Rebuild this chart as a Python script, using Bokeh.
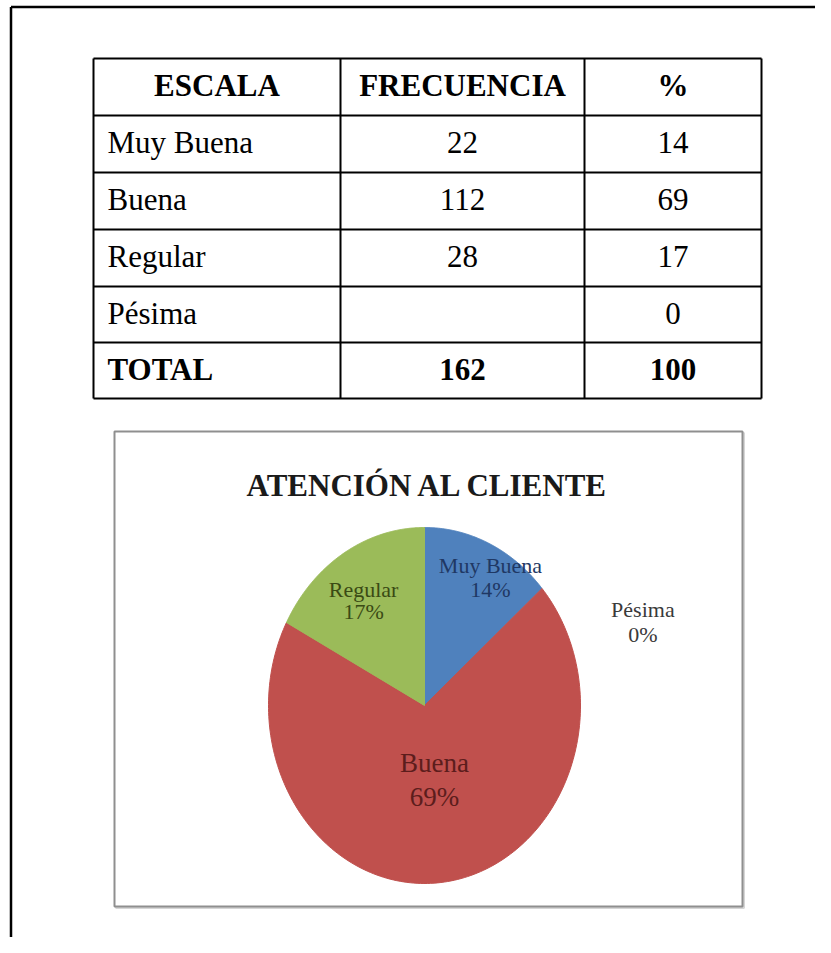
import numpy as np
from bokeh.plotting import figure
from bokeh.models import Range1d
from bokeh.core.properties import value
from bokeh.embed import file_html
from bokeh.resources import INLINE

# ---------------- data ----------------
headers = ["ESCALA", "FRECUENCIA", "%"]
escala = ["Muy Buena", "Buena", "Regular", "Pésima"]
frecuencia = [22, 112, 28, None]
porcentaje = [14, 69, 17, 0]
total_label = "TOTAL"
chart_title = "ATENCIÓN AL CLIENTE"

# ---------------- style / layout ----------------
W, H = 815, 937
SERIF = "Liberation Serif"
slice_colors = ["#4f81bd", "#c0504d", "#9bbb59", "#8064a2"]
label_colors = ["#1f3864", "#5c1d1c", "#3a4a14", "#3a3a3a"]
label_sizes = ["22px", "27px", "22px", "22px"]
label_gap = [24, 34, 22, 25]
label_r = [0.835, 0.425, 0.707, None]
label_dang = [-6, 2, 2.4, 0]

col_x = [93, 340, 584, 761]
row_y = [58, 115, 172, 229, 286, 342, 398]
box = (114, 431, 742, 906)
cx, cy, rx, ry = 424, 705, 156, 178
title_xy = (427.5, 485)
pesima_uv = (1.40, 0.47)
TFS = "31px"
mid_off = 27
pad = 14

p = figure(width=W, height=H, x_range=Range1d(0, W), y_range=Range1d(H, 0),
           output_backend="svg", toolbar_location=None, min_border=0)
p.axis.visible = False
p.grid.visible = False
p.outline_line_color = None
p.background_fill_color = "white"
p.border_fill_color = "white"

# page frame lines
p.segment(x0=[10.5, 10.5], y0=[6.5, 6.5], x1=[10.5, W], y1=[H, 6.5],
          line_color="black", line_width=2.5)

# ---------------- table ----------------
p.segment(x0=[col_x[0]] * len(row_y), x1=[col_x[-1]] * len(row_y), y0=row_y, y1=row_y,
          line_color="black", line_width=2)
p.segment(x0=col_x, x1=col_x, y0=[row_y[0]] * len(col_x), y1=[row_y[-1]] * len(col_x),
          line_color="black", line_width=2)

col_centers = [(col_x[i] + col_x[i + 1]) / 2 for i in range(3)]

def cell_text(xs, ys, texts, align, bold=False):
    p.text(x=xs, y=ys, text=texts, text_font=value(SERIF), text_font_size=value(TFS),
           text_font_style="bold" if bold else "normal",
           text_align=align, text_baseline="middle", text_color="black")

# header
cell_text(col_centers, [row_y[0] + mid_off] * 3, headers, "center", bold=True)

# body
body_y = [row_y[r] + mid_off for r in range(1, 1 + len(escala))]
cell_text([col_x[0] + pad] * len(escala), body_y, escala, "left")
cell_text([col_centers[1]] * len(escala), body_y,
          ["" if f is None else str(f) for f in frecuencia], "center")
cell_text([col_centers[2]] * len(escala), body_y, [str(v) for v in porcentaje], "center")

# total row
tot_f = sum(f for f in frecuencia if f is not None)
tot_p = sum(porcentaje)
ty = row_y[1 + len(escala)] + mid_off
cell_text([col_x[0] + pad], [ty], [total_label], "left", bold=True)
cell_text([col_centers[1], col_centers[2]], [ty, ty], [str(tot_f), str(tot_p)], "center", bold=True)

# ---------------- chart box ----------------
bx0, by0, bx1, by1 = box
p.quad(left=[bx0 + 1.5], right=[bx1 + 1.5], top=[by0 + 1.5], bottom=[by1 + 1.5],
       fill_color=None, line_color="#d6d6d6", line_width=2)
p.quad(left=[bx0], right=[bx1], top=[by0], bottom=[by1],
       fill_color="white", line_color="#8f8f8f", line_width=2)

p.text(x=[title_xy[0]], y=[title_xy[1]], text=[chart_title],
       text_font=value(SERIF), text_font_size=value("31px"), text_font_style="bold",
       text_align="center", text_baseline="middle", text_color="#1a1a1a")

# ---------------- pie ----------------
vals = np.array([0 if f is None else f for f in frecuencia], dtype=float)
total = vals.sum()
ends = 90 - 360 * np.cumsum(vals) / total
starts = np.concatenate([[90], ends[:-1]])

xs, ys, cols = [], [], []
for i in range(len(vals)):
    if vals[i] <= 0:
        continue
    t = np.radians(np.linspace(starts[i], ends[i], 200))
    xs.append(list(np.concatenate([[cx], cx + rx * np.cos(t), [cx]])))
    ys.append(list(np.concatenate([[cy], cy - ry * np.sin(t), [cy]])))
    cols.append(slice_colors[i])
p.patches(xs=xs, ys=ys, fill_color=cols, line_color=cols, line_width=1)

for i in range(len(vals)):
    mid = np.radians((starts[i] + ends[i]) / 2 + label_dang[i])
    if label_r[i] is None:
        u, v = pesima_uv
    else:
        u, v = label_r[i] * np.cos(mid), label_r[i] * np.sin(mid)
    lx, ly = cx + rx * u, cy - ry * v
    g = label_gap[i] / 2
    p.text(x=[lx, lx], y=[ly - g, ly + g], text=[escala[i], f"{porcentaje[i]}%"],
           text_font=value(SERIF), text_font_size=value(label_sizes[i]),
           text_align="center", text_baseline="middle", text_color=label_colors[i])

open("out.html", "w").write(file_html(p, INLINE))
